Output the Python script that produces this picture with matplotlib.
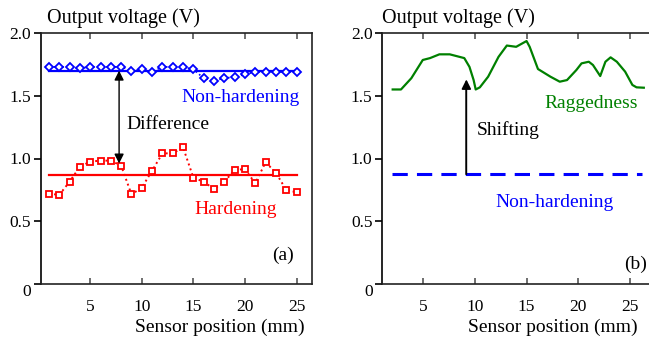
import matplotlib
matplotlib.use("Agg")
import matplotlib.pyplot as plt
import numpy as np

plt.rcParams['font.family'] = ['Liberation Serif', 'DejaVu Serif']

# ---- data ----
positions = list(range(1, 26))
non_hardening = [1.73, 1.73, 1.73, 1.72, 1.73, 1.73, 1.73, 1.73, 1.70, 1.71,
                 1.69, 1.73, 1.73, 1.73, 1.71, 1.64, 1.62, 1.64, 1.65, 1.67,
                 1.69, 1.69, 1.69, 1.69, 1.69]
hardening = [0.72, 0.71, 0.815, 0.935, 0.975, 0.983, 0.983, 0.943, 0.714, 0.768,
             0.903, 1.041, 1.041, 1.089, 0.847, 0.815, 0.757, 0.815, 0.908, 0.916,
             0.802, 0.970, 0.887, 0.749, 0.731]
non_hardening_mean = 1.70
hardening_mean = 0.87

ragged_x = [2.1, 2.9, 3.9, 5.0, 5.7, 6.6, 7.6, 9.0, 9.5, 9.9, 10.1, 10.5, 11.3,
            12.3, 13.1, 14.0, 15.0, 15.3, 16.1, 17.3, 18.2, 18.9, 19.8, 20.3,
            21.0, 21.4, 22.1, 22.6, 23.1, 23.7, 24.5, 25.2, 25.6, 26.3]
ragged_y = [1.55, 1.55, 1.64, 1.785, 1.80, 1.83, 1.83, 1.80, 1.73, 1.625, 1.55,
            1.567, 1.652, 1.81, 1.90, 1.89, 1.936, 1.89, 1.713, 1.652, 1.612,
            1.625, 1.705, 1.758, 1.771, 1.745, 1.657, 1.771, 1.806, 1.771,
            1.692, 1.586, 1.567, 1.564]
nonhard_b_x = [2.0, 26.1]
nonhard_b_y = [0.875, 0.875]

xticks = [5, 10, 15, 20, 25]
yticks = [0, 0.5, 1.0, 1.5, 2.0]
ytick_labels = ['0', '0.5', '1.0', '1.5', '2.0']

W, H = 649, 338
fig = plt.figure(figsize=(W / 100, H / 100), dpi=100)

def px_axes(l, r, t, b):
    return fig.add_axes([l / W, 1 - b / H, (r - l) / W, (b - t) / H])

FS = 12.5

def style(ax, right_spine=True):
    ax.set_ylim(0, 2.0)
    ax.set_yticks(yticks)
    ax.set_yticklabels(ytick_labels)
    ax.set_xticks(xticks)
    for s in ax.spines.values():
        s.set_linewidth(1.2)
        s.set_color('#222222')
    ax.spines['left'].set_color('black')
    ax.spines['right'].set_visible(right_spine)
    ax.tick_params(axis='y', direction='out', length=5, width=1.2, labelsize=FS, pad=2)
    ax.tick_params(axis='x', direction='in', length=4, width=1.2, labelsize=FS, pad=11,
                   top=True, color='#555555')
    ax.yaxis.get_majorticklabels()[0].set_va('top')

# ---- panel (a) ----
ax1 = px_axes(40.7, 312, 33, 284)
ax1.set_xlim(0.2, 26.5)
style(ax1)
ax1.plot(positions, non_hardening, color='blue', linestyle=':', linewidth=1.2,
         marker='D', markersize=4.3, markerfacecolor='white', markeredgecolor='blue',
         markeredgewidth=1.3, zorder=3)
ax1.plot([positions[0], positions[-1]], [non_hardening_mean, non_hardening_mean],
         color='blue', linewidth=1.6, zorder=2)
ax1.plot(positions, hardening, color='red', linestyle=':', linewidth=1.4,
         marker='s', markersize=4.3, markerfacecolor='white', markeredgecolor='red',
         markeredgewidth=1.3, zorder=3)
ax1.plot([positions[0], positions[-1]], [hardening_mean, hardening_mean],
         color='red', linewidth=1.6, zorder=2)
ax1.annotate('', xy=(7.8, 0.96), xytext=(7.8, 1.70),
             arrowprops=dict(arrowstyle='<|-|>', color='black', lw=1.0,
                             mutation_scale=14, shrinkA=0, shrinkB=0))
ax1.text(8.5, 1.27, 'Difference', fontsize=14, va='center', ha='left')
ax1.text(25.3, 1.49, 'Non-hardening', fontsize=14, color='blue', va='center', ha='right')
ax1.text(15.1, 0.59, 'Hardening', fontsize=14, color='red', va='center', ha='left')
ax1.text(24.7, 0.23, '(a)', fontsize=14, va='center', ha='right')

# ---- panel (b) ----
ax2 = px_axes(382.3, 649, 33, 284)
ax2.set_xlim(1.1, 26.8)
style(ax2, right_spine=False)
ax2.plot(ragged_x, ragged_y, color='#008000', linewidth=1.6)
ax2.plot(nonhard_b_x, nonhard_b_y, color='blue', linewidth=2.2, linestyle=(0, (5, 3)))
ax2.annotate('', xy=(9.2, 1.63), xytext=(9.2, 0.875),
             arrowprops=dict(arrowstyle='-|>', color='#555555', lw=1.2,
                             mutation_scale=14, shrinkA=0, shrinkB=0,
                             fc='black', ec='black'))
ax2.plot([9.2, 9.2], [0.875, 1.55], color='#666666', linewidth=1.2)
ax2.text(10.2, 1.23, 'Shifting', fontsize=14, va='center', ha='left')
ax2.text(25.7, 1.44, 'Raggedness', fontsize=14, color='#008000', va='center', ha='right')
ax2.text(12.0, 0.65, 'Non-hardening', fontsize=14, color='blue', va='center', ha='left')
ax2.text(26.6, 0.16, '(b)', fontsize=14, va='center', ha='right')

# titles and axis labels
fig.text(47 / W, 1 - 18 / H, 'Output voltage (V)', fontsize=14.5, va='center', ha='left')
fig.text(382 / W, 1 - 18 / H, 'Output voltage (V)', fontsize=14.5, va='center', ha='left')
fig.text(305 / W, 1 - 327 / H, 'Sensor position (mm)', fontsize=14, va='center', ha='right')
fig.text(638 / W, 1 - 327 / H, 'Sensor position (mm)', fontsize=14, va='center', ha='right')

fig.savefig('out.png', dpi=100)
